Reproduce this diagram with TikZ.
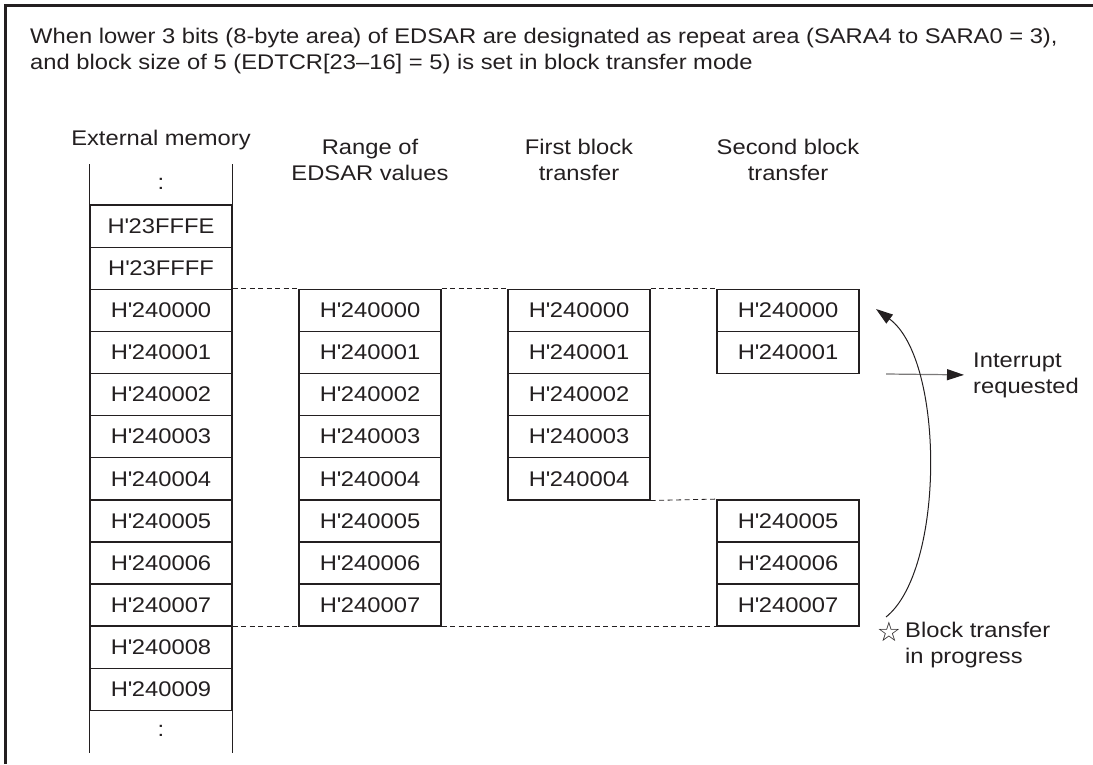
\documentclass[tikz,border=0pt]{standalone}
\usepackage{fontspec}
\setmainfont[FakeStretch=1.12]{Liberation Sans}
\newfontfamily\symfont{DejaVu Sans}
\usetikzlibrary{arrows.meta}
\definecolor{ink}{HTML}{231F20}
\newcommand{\hq}{H\textquotesingle}
\tikzset{
  txt/.style={text=ink, font=\fontsize{21.2}{26}\selectfont},
  cell/.style={txt, draw=ink, line width=1.4pt, minimum width=142pt, minimum height=42.1pt, inner sep=0pt},
  opencell/.style={cell, draw=none},
  hdr/.style={txt, align=center, inner sep=0pt},
  lbl/.style={txt, align=left, inner sep=0pt},
  guide/.style={draw=ink, line width=0.8pt, dash pattern=on 5pt off 3.5pt},
  tip/.style={-{Triangle[length=17pt,width=11pt,color=ink]}},
}
\begin{document}
\begin{tikzpicture}[x=1pt,y=-1pt]
\useasboundingbox (0,0) rectangle (1093,765);
% frame (left and top only)
\draw[ink, line width=2.7pt] (5.5,764) -- (5.5,5.5) -- (1093,5.5);
% title
\node[lbl, anchor=west] (title1) at (30,38) {When lower 3 bits (8-byte area) of EDSAR are designated as repeat area (SARA4 to SARA0 = 3),};
\node[lbl, anchor=west] (title2) at (30,64) {and block size of 5 (EDTCR[23–16] = 5) is set in block transfer mode};
% headers
\node[hdr] (hext) at (161,140) {External memory};
\node[hdr] (hrng) at (370,160) {Range of\\EDSAR values};
\node[hdr] (hfst) at (579,160) {First block\\transfer};
\node[hdr] (hsnd) at (788,160) {Second block\\transfer};
% external memory column
\node[opencell] (mtop) at (161,184.05) {:};
\draw[ink, line width=1.4pt] (mtop.south west) -- ++(0,-42.1);
\draw[ink, line width=1.4pt] (mtop.south east) -- ++(0,-42.1);
\node[cell] (mfe) at (161,226.15) {\hq23FFFE};
\node[cell] (mff) at (161,268.25) {\hq23FFFF};
\foreach \i in {0,...,9} {
  \node[cell] (m\i) at (161,310.35+42.1*\i) {\hq24000\i};
}
\node[opencell] (mbot) at (161,731.35) {:};
\draw[ink, line width=1.4pt] (mbot.north west) -- (mbot.south west);
\draw[ink, line width=1.4pt] (mbot.north east) -- (mbot.south east);
% range of EDSAR values
\foreach \i in {0,...,7} {
  \node[cell] (r\i) at (370,310.35+42.1*\i) {\hq24000\i};
}
% first block transfer
\foreach \i in {0,...,4} {
  \node[cell] (f\i) at (579,310.35+42.1*\i) {\hq24000\i};
}
% second block transfer
\foreach \i in {0,1,5,6,7} {
  \node[cell] (s\i) at (788,310.35+42.1*\i) {\hq24000\i};
}
% dashed guides
\draw[guide] (m0.north east) -- (r0.north west);
\draw[guide] (r0.north east) -- (f0.north west);
\draw[guide] (f0.north east) -- (s0.north west);
\draw[guide] (f4.south east) -- (s5.north west);
\draw[guide] (m7.south east) -- (r7.south west);
\draw[guide] (r7.south east) -- (s7.south west);
% interrupt arrow
\node[lbl, anchor=west] (intr) at (973,375) {Interrupt\\requested};
\coordinate (ia) at (886,374);
\draw[tip, draw=ink!60, line width=1.2pt, shorten >=9pt] (ia) -- (intr.west);
% curved arrow
\coordinate (cs) at (886,617);
\coordinate (ce) at (876,309);
\draw[tip, ink, line width=1pt] (cs) .. controls (945,570) and (945,360) .. (ce);
% star label
\node[text=ink, inner sep=0pt, font=\symfont\fontsize{27}{27}\selectfont] (star) at (889,632) {☆};
\node[lbl, anchor=west] (bt) at (905,645) {Block transfer\\in progress};
\end{tikzpicture}
\end{document}
